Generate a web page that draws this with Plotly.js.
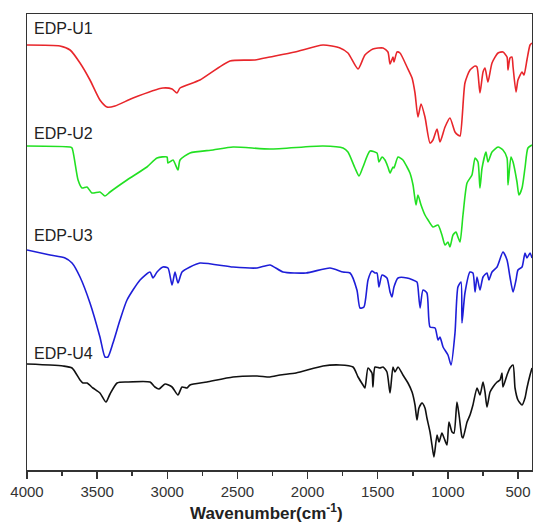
<!DOCTYPE html>
<html>
<head>
<meta charset="utf-8">
<script src="https://cdn.plot.ly/plotly-3.0.1.min.js"></script>
<style>html,body{margin:0;padding:0;background:#fff;}#chart{width:533px;height:523px;}</style>
</head>
<body>
<div id="chart"></div>
<script>
// Sample names
const names = ["EDP-U1", "EDP-U2", "EDP-U3", "EDP-U4"];
const xTitle = "<b>Wavenumber(cm<sup>-1</sup>)</b>";

// EDP-U1 (red), offset transmittance in arbitrary units
const wnU1 = [4000,3765,3693,3622,3551,3480,3430,3373,3244,3031,2966,2931,2909,2767,2553,2375,2268,2090,1890,1769,1712,1640,1591,1534,1462,1427,1412,1391,1384,1362,1341,1291,1255,1234,1213,1191,1163,1127,1106,1077,1056,1020,985,949,928,913,878,842,806,792,771,749,735,714,685,642,607,578,571,557,543,535,514,500,471,457,436,414,400];
const tU1 = [425,424,420,407,390,370,363,364,372,382,381,377,382,390,409,410,413,418,425,422,417,401,415,421,422,418,406,413,408,418,417,403,392,377,353,366,353,327,330,341,328,343,352,338,335,334,387,400,404,403,377,398,402,388,407,417,418,413,400,412,413,403,378,390,398,395,410,425,427];

// EDP-U2 (green)
const wnU2 = [4000,3693,3679,3636,3608,3572,3537,3480,3444,3408,3287,3145,3073,3002,2995,2959,2924,2909,2838,2674,2531,2268,1890,1747,1712,1662,1633,1605,1555,1505,1491,1469,1448,1427,1412,1391,1384,1355,1320,1291,1270,1248,1227,1213,1191,1163,1141,1106,1070,1042,1020,999,985,963,942,928,913,892,863,828,806,785,771,756,728,714,685,642,607,578,571,550,535,507,493,471,450,429,400];
const tU2 = [324,323,322,290,282,283,277,278,274,278,290,303,312,313,307,310,300,310,317,320,323,321,324,322,318,302,294,303,319,317,308,313,310,303,297,303,302,313,310,303,297,285,265,275,265,255,250,243,245,235,225,228,223,235,238,233,228,255,287,295,312,308,282,302,318,308,318,323,320,312,285,313,308,288,275,282,302,322,325];

// EDP-U3 (blue)
const wnU3 = [4000,3836,3729,3679,3622,3551,3480,3444,3423,3387,3337,3287,3194,3123,3102,3073,3031,2995,2966,2945,2924,2895,2838,2767,2531,2360,2268,2175,2011,1840,1747,1697,1648,1626,1598,1569,1541,1519,1505,1491,1469,1434,1412,1398,1384,1355,1291,1220,1213,1198,1177,1149,1127,1091,1070,1056,1034,999,977,949,928,906,899,878,842,821,806,792,771,749,721,707,685,649,607,578,557,535,514,500,471,450,436,414,400];
const tU3 = [220,215,212,207,193,167,133,113,113,127,150,170,190,198,192,198,203,202,185,198,187,198,203,207,203,202,205,198,197,202,198,197,180,162,163,190,199,197,197,183,195,192,178,173,183,192,192,188,183,162,180,177,143,142,130,133,123,115,105,137,183,188,147,177,198,197,178,193,180,193,197,190,198,203,218,210,193,178,190,200,203,217,212,217,212];

// EDP-U4 (black)
const wnU4 = [4000,3836,3743,3679,3622,3601,3572,3530,3480,3437,3408,3358,3287,3123,3088,3059,3016,2966,2924,2895,2859,2838,2717,2531,2360,2268,2196,2082,1890,1769,1676,1640,1605,1591,1569,1541,1534,1519,1484,1462,1434,1412,1391,1377,1355,1320,1284,1255,1234,1220,1206,1184,1163,1149,1127,1113,1099,1077,1063,1042,1027,1006,992,970,956,935,920,899,892,863,842,821,792,771,749,735,721,699,678,649,628,614,607,578,557,535,521,500,471,450,436,414,400];
const tU4 = [106,105,104,102,90,87,87,82,77,68,76,87,88,88,83,81,86,83,75,83,82,85,88,93,94,93,95,97,104,105,103,93,85,82,102,97,83,103,102,103,98,77,103,98,103,95,87,78,65,50,62,67,62,52,38,25,13,35,28,37,32,25,48,38,37,68,55,33,32,48,55,65,82,75,88,78,63,78,83,88,90,97,83,95,102,105,82,70,65,72,82,95,102];

// Axis ticks
const tickVals = [4000,3500,3000,2500,2000,1500,1000,500];
const tickText = ["4000","3500","3000","2500","2000","1500","1000","500"];
const minorVals = [3750,3250,2750,2250,1750,1250,750];

const colors = ["#e8262b", "#22e022", "#1e1ed8", "#111111"];
const wns = [wnU1, wnU2, wnU3, wnU4];
const ts = [tU1, tU2, tU3, tU4];
const labelY = [442, 337, 235, 117];

const traces = names.map((n, i) => ({
  x: wns[i], y: ts[i], type: "scatter", mode: "lines", name: n,
  line: {color: colors[i], width: 1.6, shape: "spline", smoothing: 0.6}, hoverinfo: "skip"
}));

const annotations = names.map((n, i) => ({
  x: 3962, y: labelY[i], xref: "x", yref: "y", text: n, showarrow: false,
  xanchor: "left", yanchor: "middle",
  font: {family: "Liberation Sans, Arial, sans-serif", size: 16, color: "#222"}
}));
annotations.push({
  x: 2290, y: -0.092, xref: "x", yref: "paper", text: xTitle, showarrow: false,
  xanchor: "center", yanchor: "middle",
  font: {family: "Liberation Sans, Arial, sans-serif", size: 17, color: "#222"}
});

const layout = {
  width: 533, height: 523,
  margin: {l: 27, r: 1, t: 14, b: 53},
  paper_bgcolor: "#fff", plot_bgcolor: "#fff",
  showlegend: false,
  font: {family: "Liberation Sans, Arial, sans-serif", color: "#333"},
  xaxis: {
    range: [4000, 400], tickvals: tickVals, ticktext: tickText,
    ticks: "outside", ticklen: 7, tickwidth: 1.5, tickcolor: "#333",
    minor: {tickvals: minorVals, ticks: "outside", ticklen: 4, tickwidth: 1.5, tickcolor: "#333"},
    showline: true, linecolor: "#333", linewidth: 1.5, mirror: true,
    showgrid: false, zeroline: false,
    tickfont: {size: 15, color: "#333"}
  },
  yaxis: {
    range: [0, 456], showticklabels: false, ticks: "",
    showline: true, linecolor: "#333", linewidth: 1.5, mirror: true,
    showgrid: false, zeroline: false
  },
  annotations: annotations
};

Plotly.newPlot("chart", traces, layout, {staticPlot: true, displayModeBar: false});
</script>
</body>
</html>
